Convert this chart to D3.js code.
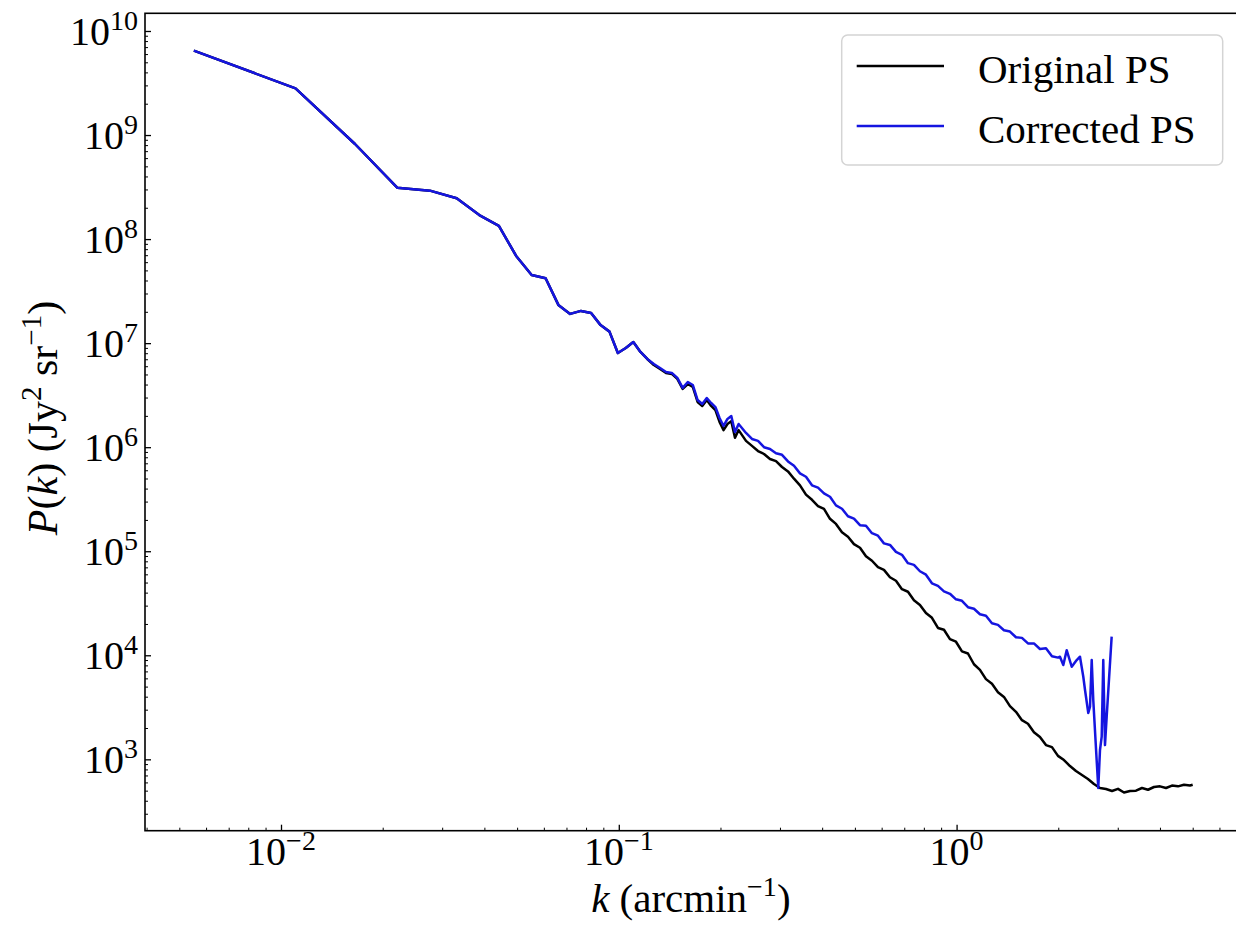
<!DOCTYPE html>
<html><head><meta charset="utf-8">
<script src="https://cdn.jsdelivr.net/npm/d3@7"></script>
<style>
body{margin:0;background:#fff}
svg{display:block}
text{font-family:"Liberation Serif","Times New Roman",serif;fill:#000}
</style>
</head><body>
<svg id="c" width="1236" height="928"></svg>
<script>
// ---------------- data ----------------
const seriesNames = ["Original PS", "Corrected PS"];
const seriesColors = ["#000000", "#1515e0"];

// linear k bins at low k (arcmin^-1)
const kLow = [0.00552,0.01104,0.01656,0.02208,0.0276,0.03312,0.03864,0.04416,0.04968,0.0552,
  0.06072,0.06624,0.07176,0.07728,0.0828,0.08832,0.09384,0.09936,0.10488,0.1104,
  0.11592,0.12144,0.12696,0.13248,0.138,0.14352,0.14904,0.15456,0.16008,0.1656,
  0.17112,0.17664,0.18216,0.18768,0.1932,0.19872,0.20424,0.20976,0.21528,0.2208,0.22632];
const pLowOrig = [6.47e9,2.81e9,8.20e8,3.12e8,2.92e8,2.47e8,1.70e8,1.34e8,6.88e7,4.52e7,
  4.20e7,2.33e7,1.91e7,2.04e7,1.95e7,1.49e7,1.29e7,8.04e6,8.98e6,1.026e7,
  8.22e6,7.04e6,6.16e6,5.64e6,5.16e6,5.06e6,4.53e6,3.63e6,4.05e6,3.79e6,
  2.72e6,2.49e6,2.84e6,2.49e6,2.27e6,1.75e6,1.46e6,1.67e6,1.78e6,1.23e6,1.46e6];
const pLowCorr = [6.47e9,2.81e9,8.20e8,3.12e8,2.92e8,2.47e8,1.70e8,1.34e8,6.88e7,4.52e7,
  4.20e7,2.33e7,1.91e7,2.04e7,1.95e7,1.49e7,1.29e7,8.04e6,8.98e6,1.026e7,
  8.22e6,7.04e6,6.30e6,5.77e6,5.28e6,5.17e6,4.63e6,3.71e6,4.23e6,3.96e6,
  2.84e6,2.60e6,2.97e6,2.66e6,2.43e6,1.91e6,1.60e6,1.87e6,1.99e6,1.40e6,1.67e6];

// mid range
const kMid = [0.2380,0.2479,0.2583,0.2691,0.2803,0.2920,0.3042,0.3169,0.3301,0.3439,
  0.3582,0.3732,0.3888,0.4050,0.4219,0.4395,0.4578,0.4769,0.4968,0.5176,
  0.5392,0.5617,0.5851,0.6095,0.6350,0.6615,0.6891,0.7179,0.7478,0.7790,
  0.8115,0.8454,0.8807,0.9175,0.9558,0.9957,1.0373,1.0806,1.1257,1.1727,
  1.2216,1.2727,1.3258,1.3811,1.4388,1.4989,1.5614,1.6266,1.6945,1.7652,
  1.8390,1.9158,1.9958];
const pMidOrig = [1.15e6,1.03e6,9.18e5,8.60e5,7.70e5,7.35e5,6.45e5,5.85e5,4.98e5,4.30e5,
  3.50e5,3.12e5,2.72e5,2.55e5,2.05e5,1.83e5,1.52e5,1.38e5,1.17e5,1.08e5,
  8.95e4,8.10e4,7.02e4,6.62e4,5.62e4,5.20e4,4.32e4,4.08e4,3.38e4,3.05e4,
  2.55e4,2.29e4,1.83e4,1.76e4,1.43e4,1.35e4,1.09e4,1.04e4,8.20e3,7.25e3,
  5.90e3,5.32e3,4.42e3,3.98e3,3.25e3,2.86e3,2.38e3,2.20e3,1.82e3,1.64e3,
  1.37e3,1.31e3,1.08e3];
const pMidCorr = [1.37e6,1.20e6,1.15e6,1.00e6,9.60e5,8.75e5,8.45e5,7.30e5,6.62e5,5.60e5,
  5.20e5,4.30e5,4.08e5,3.60e5,3.34e5,2.76e5,2.56e5,2.17e5,2.06e5,1.78e5,
  1.76e5,1.49e5,1.41e5,1.19e5,1.15e5,9.85e4,9.25e4,7.68e4,7.40e4,6.42e4,
  5.95e4,4.92e4,4.65e4,4.12e4,3.90e4,3.45e4,3.34e4,2.90e4,2.80e4,2.48e4,
  2.40e4,2.03e4,1.96e4,1.74e4,1.69e4,1.49e4,1.47e4,1.30e4,1.30e4,1.15e4,
  1.17e4,9.8e3,9.5e3];

// high-k tails
const kTailOrig = [2.0791,2.1659,2.2563,2.3505,2.4486,2.5508,2.6573,2.769,2.885,3.005,
  3.131,3.261,3.397,3.539,3.687,3.841,4.001,4.168,4.342,4.523,4.712,4.909,5.0];
const pTailOrig = [9.85e2,8.62e2,7.72e2,7.07e2,6.47e2,5.79e2,5.30e2,5.18e2,4.96e2,5.2e2,
  4.8e2,4.96e2,5.0e2,5.3e2,5.1e2,5.42e2,5.5e2,5.3e2,5.6e2,5.5e2,5.7e2,5.6e2,5.7e2];
const kTailCorr = [2.023,2.070,2.118,2.192,2.268,2.319,2.372,2.400,2.454,2.483,
  2.512,2.539,2.598,2.627,2.658,2.689,2.718,2.750,2.782,2.878];
const pTailCorr = [9.69e3,8.06e3,1.12e4,7.76e3,9.00e3,9.69e3,6.22e3,4.64e3,2.79e3,3.20e3,
  9.00e3,3.71e3,9.85e2,5.30e2,1.23e3,1.65e3,9.00e3,1.37e3,2.57e3,1.51e4];

// axis limits and ticks
const xDomain = [0.003957, 7.031];
const yDomain = [206.1, 1.479e10];
const xTickExps = [-2, -1, 0];
const yTickExps = [3, 4, 5, 6, 7, 8, 9, 10];

// ---------------- drawing ----------------
const L = 145, R = 1242.7, T = 13.3, B = 830.7;
const x = d3.scaleLog().domain(xDomain).range([L, R]);
const y = d3.scaleLog().domain(yDomain).range([B, T]);
const svg = d3.select("#c");

const zip = (ks, ps) => ks.map((k, i) => [k, ps[i]]);
const orig = zip(kLow, pLowOrig).concat(zip(kMid, pMidOrig), zip(kTailOrig, pTailOrig));
const corr = zip(kLow, pLowCorr).concat(zip(kMid, pMidCorr), zip(kTailCorr, pTailCorr));

const line = d3.line().x(d => x(d[0])).y(d => y(d[1]));

svg.append("defs").append("clipPath").attr("id", "clip")
  .append("rect").attr("x", L).attr("y", T).attr("width", R - L).attr("height", B - T);

const plot = svg.append("g").attr("clip-path", "url(#clip)");
[orig, corr].forEach((data, i) => {
  plot.append("path").datum(data)
    .attr("d", line)
    .attr("fill", "none")
    .attr("stroke", seriesColors[i])
    .attr("stroke-width", 2.5)
    .attr("stroke-linejoin", "round");
});

// minor / major tick values
const xMajor = xTickExps.map(e => Math.pow(10, e));
const yMajor = yTickExps.map(e => Math.pow(10, e));
const xMinor = [], yMinor = [];
for (let e = -3; e <= 0; e++) for (let m = 2; m <= 9; m++) {
  const v = m * Math.pow(10, e);
  if (v > xDomain[0] && v < xDomain[1]) xMinor.push(v);
}
for (let e = 2; e <= 10; e++) for (let m = 2; m <= 9; m++) {
  const v = m * Math.pow(10, e);
  if (v > yDomain[0] && v < yDomain[1]) yMinor.push(v);
}

function styleAxis(g, w) {
  g.select(".domain").remove();
  g.selectAll(".tick line").attr("stroke", "#000").attr("stroke-width", w);
  g.selectAll(".tick text").remove();
}
svg.append("g").attr("transform", `translate(0,${B})`)
  .call(d3.axisBottom(x).tickValues(xMinor).tickSizeInner(-3).tickSizeOuter(0))
  .call(g => styleAxis(g, 1));
svg.append("g").attr("transform", `translate(0,${B})`)
  .call(d3.axisBottom(x).tickValues(xMajor).tickSizeInner(-6).tickSizeOuter(0))
  .call(g => styleAxis(g, 1.3));
svg.append("g").attr("transform", `translate(${L},0)`)
  .call(d3.axisLeft(y).tickValues(yMinor).tickSizeInner(-3).tickSizeOuter(0))
  .call(g => styleAxis(g, 1));
svg.append("g").attr("transform", `translate(${L},0)`)
  .call(d3.axisLeft(y).tickValues(yMajor).tickSizeInner(-6).tickSizeOuter(0))
  .call(g => styleAxis(g, 1.3));

// frame
svg.append("rect").attr("x", L).attr("y", T).attr("width", R - L).attr("height", B - T)
  .attr("fill", "none").attr("stroke", "#000").attr("stroke-width", 1.6);

// tick labels
const fmtExp = e => (e < 0 ? "\u2212" + (-e) : String(e));
xTickExps.forEach(e => {
  const t = svg.append("text").attr("x", x(Math.pow(10, e))).attr("y", 865)
    .attr("text-anchor", "middle").attr("font-size", 40);
  t.append("tspan").text("10");
  t.append("tspan").attr("font-size", 28).attr("dy", -15).text(fmtExp(e));
});
yTickExps.forEach(e => {
  const t = svg.append("text").attr("x", 138).attr("y", y(Math.pow(10, e)) + 14)
    .attr("text-anchor", "end").attr("font-size", 40);
  t.append("tspan").text("10");
  t.append("tspan").attr("font-size", 28).attr("dy", -15).text(fmtExp(e));
});

// axis titles
const xt = svg.append("text").attr("x", (L + R) / 2 - 3).attr("y", 912)
  .attr("text-anchor", "middle").attr("font-size", 41);
xt.append("tspan").attr("font-style", "italic").text("k");
xt.append("tspan").text(" (arcmin");
xt.append("tspan").attr("font-size", 28).attr("dy", -16).text("\u22121");
xt.append("tspan").attr("dy", 16).text(")");

const yt = svg.append("text").attr("transform", `translate(57,${(T + B) / 2 - 4}) rotate(-90)`)
  .attr("text-anchor", "middle").attr("font-size", 42);
yt.append("tspan").attr("font-style", "italic").text("P");
yt.append("tspan").text("(");
yt.append("tspan").attr("font-style", "italic").text("k");
yt.append("tspan").text(") (Jy");
yt.append("tspan").attr("font-size", 29).attr("dy", -16).text("2");
yt.append("tspan").attr("dy", 16).text(" sr");
yt.append("tspan").attr("font-size", 29).attr("dy", -16).text("\u22121");
yt.append("tspan").attr("dy", 16).text(")");

// legend
const lg = svg.append("g");
lg.append("rect").attr("x", 841.7).attr("y", 35).attr("width", 381).attr("height", 130)
  .attr("rx", 6).attr("fill", "#fff").attr("fill-opacity", 0.85)
  .attr("stroke", "#d4d4d4").attr("stroke-width", 1.5);
seriesNames.forEach((name, i) => {
  const yy = 66 + i * 60;
  lg.append("line").attr("x1", 856.7).attr("x2", 944).attr("y1", yy).attr("y2", yy)
    .attr("stroke", seriesColors[i]).attr("stroke-width", 2.5);
  lg.append("text").attr("x", 978).attr("y", yy + 17).attr("font-size", 41).text(name);
});
</script>
</body></html>
